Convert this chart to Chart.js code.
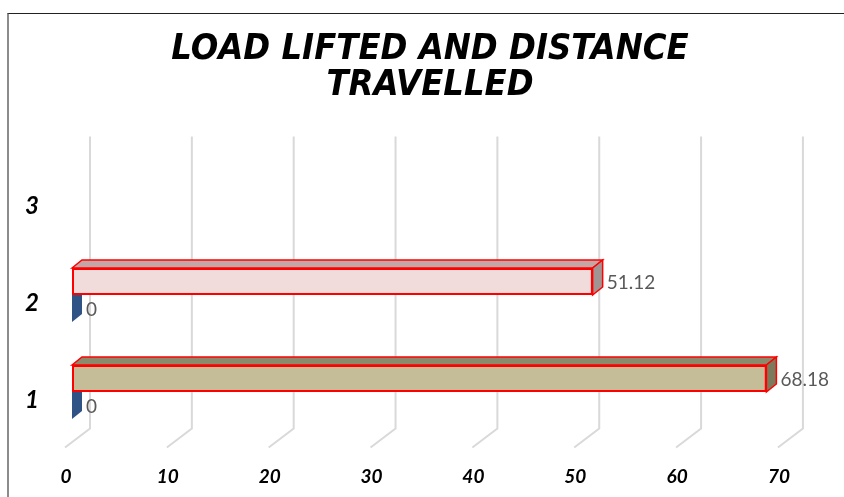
<!DOCTYPE html>
<html>
<head>
<meta charset="utf-8">
<script src="https://cdn.jsdelivr.net/npm/chart.js@4"></script>
<style>
  body { margin: 0; background: #fff; }
  #wrap { position: relative; width: 844px; height: 497px; }
  #frame { position: absolute; left: 7px; top: 13px; right: 0; bottom: 0;
           border-top: 1px solid #222; border-left: 2px solid #8c8c8c; pointer-events: none; }
</style>
</head>
<body>
<div id="wrap">
  <canvas id="chart" width="844" height="497"></canvas>
  <div id="frame"></div>
</div>
<script>
const categories = ["1", "2", "3"];
const distance = [68.18, 51.12, null];
const load = [0, 0, null];
const xTicks = [0, 10, 20, 30, 40, 50, 60, 70];

const ctxChart = document.getElementById("chart");

// fake 3d look: top + side faces of every bar
const depthX = 10;
const depthY = -8;

const bar3d = {
  id: "bar3d",
  beforeDatasetsDraw(chart) {
    const ctx = chart.ctx;
    const xs = chart.scales.x;
    const area = chart.chartArea;
    ctx.save();
    ctx.strokeStyle = "#d9d9d9";
    ctx.lineWidth = 2;
    xTicks.forEach((v) => {
      const px = xs.getPixelForValue(v);
      ctx.beginPath();
      ctx.moveTo(px + 18, area.top - 13);
      ctx.lineTo(px + 18, area.bottom - 12);
      ctx.lineTo(px - 7, area.bottom + 7);
      ctx.stroke();
    });
    ctx.restore();
  },
  afterDatasetDraw(chart, args) {
    const ctx = chart.ctx;
    const ds = chart.data.datasets[args.index];
    ctx.save();
    args.meta.data.forEach((bar, i) => {
      if (ds.data[i] == null) return;
      const p = bar.getProps(["x", "y", "base", "height"], true);
      const top = p.y - p.height / 2;
      const bot = p.y + p.height / 2;
      const left = p.base;
      const right = p.x;
      const stroke = ds.faceBorder;
      ctx.lineWidth = 1.5;
      ctx.strokeStyle = stroke || "transparent";

      ctx.beginPath();
      ctx.moveTo(left, top);
      ctx.lineTo(left + depthX, top + depthY);
      ctx.lineTo(right + depthX, top + depthY);
      ctx.lineTo(right, top);
      ctx.closePath();
      ctx.fillStyle = ds.topColor[i];
      ctx.fill();
      if (stroke) ctx.stroke();

      ctx.beginPath();
      ctx.moveTo(right, top);
      ctx.lineTo(right + depthX, top + depthY);
      ctx.lineTo(right + depthX, bot + depthY);
      ctx.lineTo(right, bot);
      ctx.closePath();
      ctx.fillStyle = ds.sideColor[i];
      ctx.fill();
      if (stroke) ctx.stroke();

      // value label
      ctx.fillStyle = "#595959";
      ctx.font = "19px Lato, 'Liberation Sans', sans-serif";
      ctx.textAlign = "left";
      ctx.textBaseline = "middle";
      ctx.fillText(String(ds.data[i]), right + 14, p.y + 1);
    });
    ctx.restore();
  },
};

new Chart(ctxChart, {
  type: "bar",
  data: {
    labels: categories,
    datasets: [
      {
        label: "Distance",
        data: distance,
        backgroundColor: ["#c4bd97", "#f2dcdb", "#f2dcdb"],
        borderColor: "#ff0000",
        borderWidth: 2,
        borderSkipped: false,
        topColor: ["#8c8a6c", "#c3a6a6", "#c3a6a6"],
        sideColor: ["#7c7a5c", "#a39494", "#a39494"],
        faceBorder: "#ff0000",
      },
      {
        label: "Load",
        data: load,
        backgroundColor: "#2f5384",
        borderWidth: 0,
        topColor: ["#2f5384", "#2f5384", "#2f5384"],
        sideColor: ["#2f5384", "#2f5384", "#2f5384"],
        faceBorder: null,
      },
    ],
  },
  options: {
    indexAxis: "y",
    responsive: false,
    animation: false,
    categoryPercentage: 0.557,
    barPercentage: 1,
    layout: {
      padding: { left: 16, right: 0, top: 0, bottom: 0 },
    },
    scales: {
      x: {
        min: 0,
        max: 75.8,
        grid: { display: false, drawTicks: false },
        border: { display: false },
        afterBuildTicks: (scale) => {
          scale.ticks = xTicks.map((v) => ({ value: v }));
        },
        afterFit: (scale) => {
          scale.height = 56.5;
        },
        ticks: {
          padding: 25,
          labelOffset: -6,
          color: "#000000",
          font: { family: "Lato, 'Liberation Sans', sans-serif", size: 19, weight: "bold", style: "italic" },
        },
      },
      y: {
        reverse: true,
        grid: { display: false, drawTicks: false },
        border: { display: false },
        afterFit: (scale) => {
          scale.width = 56;
        },
        ticks: {
          padding: 33,
          labelOffset: 8,
          color: "#000000",
          font: { family: "Lato, 'Liberation Sans', sans-serif", size: 24, weight: "bold", style: "italic" },
        },
      },
    },
    plugins: {
      legend: { display: false },
      tooltip: { enabled: false },
      title: {
        display: true,
        text: ["LOAD LIFTED AND DISTANCE", "TRAVELLED"],
        color: "#000000",
        font: { family: "'Liberation Sans Narrow', 'DejaVu Sans Condensed', sans-serif", size: 36, weight: "bold", style: "italic", lineHeight: 1 },
        padding: { top: 32, bottom: 45.5 },
      },
    },
  },
  plugins: [bar3d],
});
</script>
</body>
</html>
